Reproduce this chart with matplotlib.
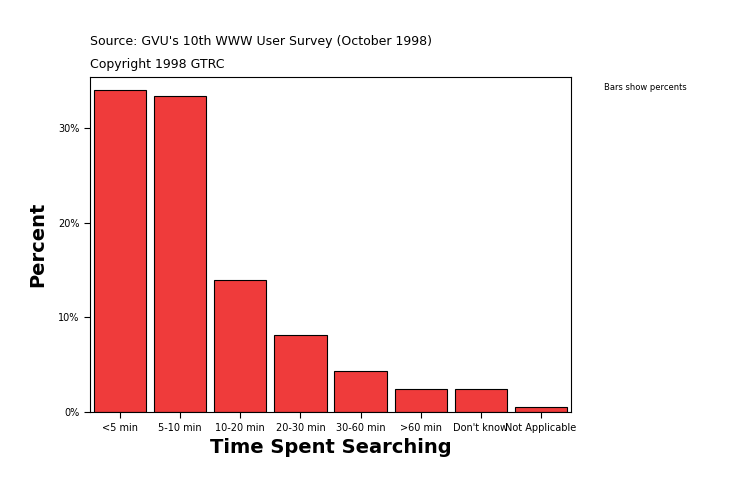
import matplotlib
matplotlib.use('Agg')
import matplotlib.pyplot as plt
from matplotlib.ticker import FuncFormatter

# data
categories = ['<5 min', '5-10 min', '10-20 min', '20-30 min', '30-60 min',
              '>60 min', "Don't know", 'Not Applicable']
percents = [34.0, 33.4, 14.0, 8.2, 4.3, 2.4, 2.4, 0.5]
y_ticks = [0, 10, 20, 30]

fig = plt.figure(figsize=(7.34, 4.96), dpi=100)
ax = fig.add_axes([0.1226, 0.169, 0.6553, 0.676])

ax.bar(range(len(categories)), percents, width=0.87,
       color='#ef3b3b', edgecolor='black', linewidth=0.8)
ax.set_xlim(-0.5, len(categories) - 0.5)
ax.set_ylim(0, 35.4)
ax.set_yticks(y_ticks)
ax.yaxis.set_major_formatter(FuncFormatter(lambda v, p: '%d%%' % v))
ax.set_xticks(range(len(categories)))
ax.set_xticklabels(categories, fontsize=7)
ax.tick_params(axis='y', labelsize=7)
ax.tick_params(direction='out', length=4)

ax.set_xlabel('Time Spent Searching', fontsize=14, fontweight='bold', labelpad=4)
ax.set_ylabel('Percent', fontsize=14, fontweight='bold', labelpad=8)

fig.text(0.1226, 0.91, "Source: GVU's 10th WWW User Survey (October 1998)", fontsize=9)
fig.text(0.1226, 0.862, 'Copyright 1998 GTRC', fontsize=9)
fig.text(0.823, 0.818, 'Bars show percents', fontsize=6)

fig.savefig('out.png', dpi=100)
